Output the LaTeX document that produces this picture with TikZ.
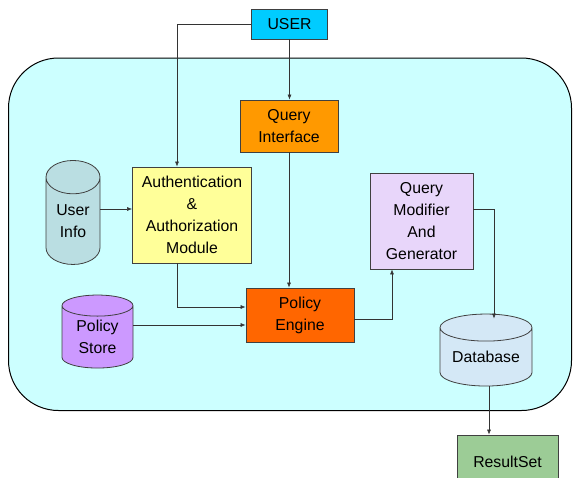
\documentclass[tikz,border=0pt]{standalone}
\usepackage{fontspec}
\setmainfont{Liberation Sans}
\usetikzlibrary{shapes.geometric,arrows.meta}
\definecolor{rahmenfill}{RGB}{204,255,255}
\definecolor{userfill}{RGB}{0,204,255}
\definecolor{queryfill}{RGB}{255,153,0}
\definecolor{authfill}{RGB}{255,255,153}
\definecolor{infofill}{RGB}{186,222,226}
\definecolor{enginefill}{RGB}{255,102,0}
\definecolor{storefill}{RGB}{204,153,255}
\definecolor{modfill}{RGB}{232,214,250}
\definecolor{dbfill}{RGB}{212,232,246}
\definecolor{resultfill}{RGB}{156,204,150}
\begin{document}
\begin{tikzpicture}[x=1pt,y=-1pt,
    font=\fontsize{15.8}{22}\selectfont,
    box/.style={draw=black!75, line width=0.8pt, align=center, inner sep=0pt},
    tonne/.style={cylinder, shape border rotate=90, draw=black!75, line width=0.8pt, align=center, inner sep=0pt},
    pfeil/.style={-{Latex[length=5pt,width=4pt]}, line width=0.6pt, draw=black!80}]
    \useasboundingbox (0,0) rectangle (573,477);
    % Rahmen
    \draw[fill=rahmenfill, line width=1pt, rounded corners=50pt] (8.5,58) rectangle (571.5,410.5);

    % Knoten
    \node[box, fill=userfill, minimum width=76pt, minimum height=30pt] (user) at (289.5,24) {USER};
    \node[box, fill=queryfill, minimum width=98pt, minimum height=52pt] (query) at (289,126) {Query\\Interface};
    \node[box, fill=authfill, minimum width=119pt, minimum height=96pt] (auth) at (192,215) {Authentication\\\&\\Authorization\\Module};
    \node[box, fill=modfill, minimum width=103pt, minimum height=96pt] (modifier) at (421.5,221) {Query\\Modifier\\And\\Generator};
    \node[box, fill=enginefill, minimum width=108pt, minimum height=54pt] (engine) at (300,315) {Policy\\Engine};
    \node[box, fill=resultfill, minimum width=101pt, minimum height=54pt] (result) at (507.5,462) {ResultSet};
    \node[tonne, fill=infofill, aspect=1, minimum width=54pt, minimum height=104pt] (info) at (73,221) {User\\Info};
    \node[tonne, fill=storefill, aspect=0.5, minimum width=71pt, minimum height=73pt] (store) at (97.5,337) {Policy\\Store};
    \node[tonne, fill=dbfill, aspect=0.4, minimum width=92pt, minimum height=72pt] (db) at (486,357) {Database};

    % Verbindungen
    \coordinate (authin) at ([yshift=6pt]auth.west);
    \coordinate (enginein1) at ([yshift=8pt]engine.west);
    \coordinate (enginein2) at ([yshift=-10pt]engine.west);
    \draw[pfeil] (user.west) -| ([xshift=-15pt]auth.north);
    \draw[pfeil] (user.south) -- (user.south |- query.north);
    \draw[pfeil] (query.south) -- (query.south |- engine.north);
    \draw[pfeil] (info.east |- authin) -- (authin);
    \draw[pfeil] ([xshift=-15pt]auth.south) |- (enginein1);
    \draw[pfeil] (store.east |- enginein2) -- (enginein2);
    \draw[pfeil] ([yshift=-4pt]engine.east) -| ([xshift=-29.5pt]modifier.south);
    \draw[pfeil] ([yshift=12pt]modifier.east) -| ([xshift=8pt,yshift=-5pt]db.north);
    \draw[pfeil] ([xshift=3pt]db.south) -- ([xshift=3pt]db.south |- result.north);
\end{tikzpicture}
\end{document}
